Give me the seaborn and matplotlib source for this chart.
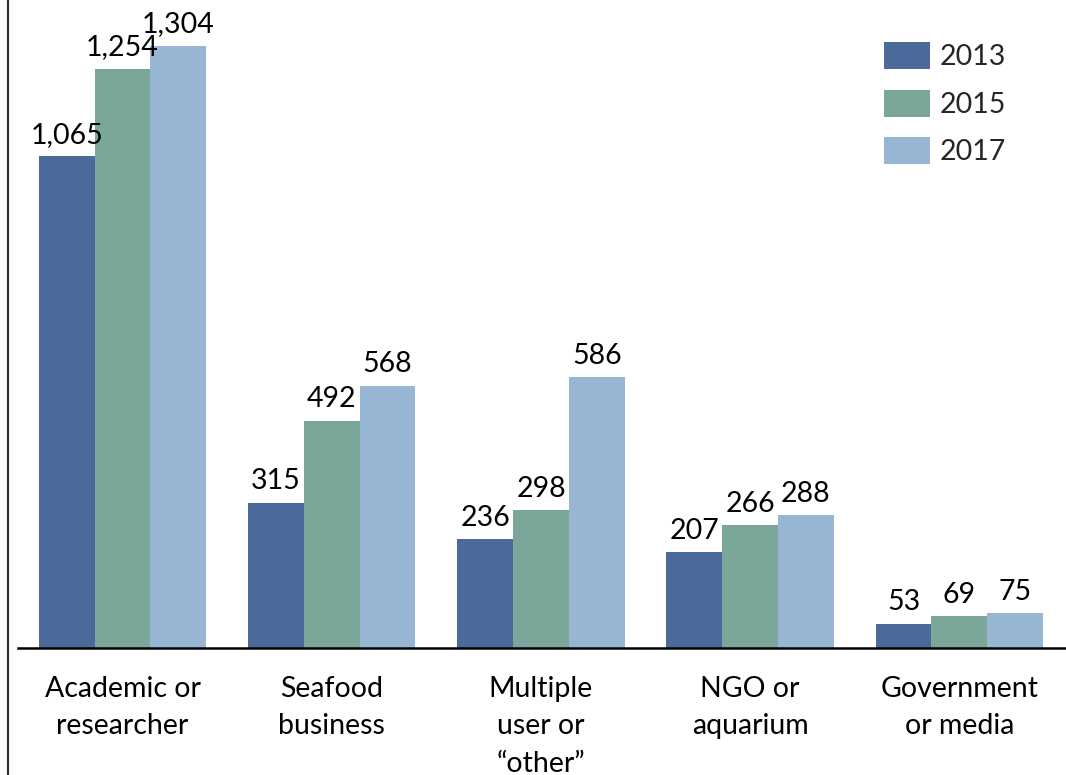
import pandas as pd
import matplotlib.pyplot as plt
import seaborn as sns
from matplotlib.lines import Line2D

# Data
categories = ["Academic or\nresearcher", "Seafood\nbusiness", "Multiple\nuser or\n\u201cother\u201d",
              "NGO or\naquarium", "Government\nor media"]
years = ["2013", "2015", "2017"]
values_2013 = [1065, 315, 236, 207, 53]
values_2015 = [1254, 492, 298, 266, 69]
values_2017 = [1304, 568, 586, 288, 75]
colors = ["#4b6a99", "#7ba79b", "#96b6d4"]

df = pd.DataFrame({
    "category": categories * 3,
    "year": [years[0]] * 5 + [years[1]] * 5 + [years[2]] * 5,
    "count": values_2013 + values_2015 + values_2017,
})

sns.set_theme(style="white")
plt.rcParams["font.family"] = ["Lato", "DejaVu Sans"]

fig = plt.figure(figsize=(10.66, 7.75), dpi=100)
ax = fig.add_axes([18 / 1066, 1 - 648 / 775, 1048 / 1066, 648 / 775])

sns.barplot(data=df, x="category", y="count", hue="year", palette=colors,
            saturation=1, errorbar=None, width=0.8, linewidth=0, ax=ax)

for cont in ax.containers:
    ax.bar_label(cont, labels=[f"{v:,.0f}" for v in cont.datavalues],
                 padding=6, fontsize=20.5, color="black")

ax.set_xlim(-0.5, 4.51)
ax.set_ylim(0, 1403)
ax.set_xlabel("")
ax.set_ylabel("")
ax.set_yticks([])
ax.tick_params(axis="x", length=0, pad=20, labelsize=20.5, colors="black")
for lbl in ax.get_xticklabels():
    lbl.set_linespacing(1.55)

for s in ["top", "right", "left"]:
    ax.spines[s].set_visible(False)
ax.spines["bottom"].set_color("black")
ax.spines["bottom"].set_linewidth(1.8)

leg = ax.legend(loc="upper left", bbox_to_anchor=(884 / 1066, 1 - 42 / 775),
                bbox_transform=fig.transFigure, frameon=False, fontsize=20.5,
                handlelength=1.62, handleheight=1.08, handletextpad=0.35,
                labelspacing=0.68, borderpad=0, borderaxespad=0)

# left border line of the original frame
fig.add_artist(Line2D([8 / 1066, 8 / 1066], [0, 1], transform=fig.transFigure,
                      color="#333333", linewidth=1.6))

fig.savefig("out.png", dpi=100, facecolor="white")
